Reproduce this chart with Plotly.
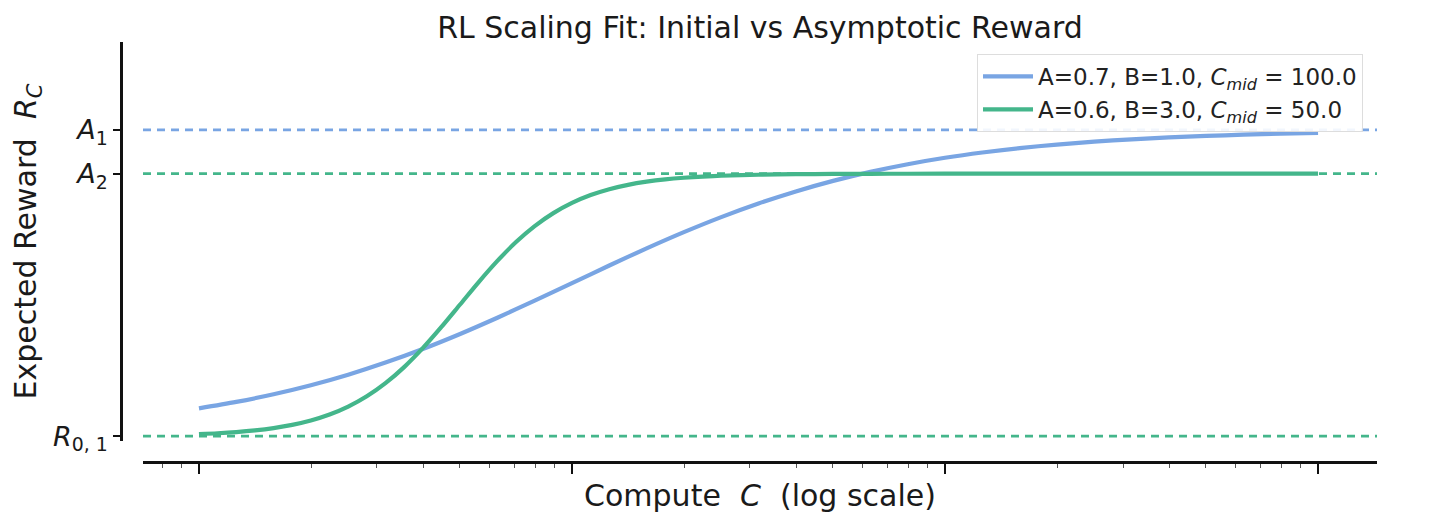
import plotly.graph_objects as go

# Blue series: compute values (log-spaced samples) and rewards
compute_c_blue = [10, 12.59, 15.85, 19.95, 25.12, 31.62, 39.81, 50.12, 63.10, 79.43,
                  100, 125.9, 158.5, 199.5, 251.2, 316.2, 398.1, 501.2, 631.0, 794.3,
                  1000, 1259, 1585, 1995, 2512, 3162, 3981, 5012, 6310, 7943, 10000]
reward_a07_b1 = [0.0636, 0.0783, 0.0958, 0.1164, 0.1405, 0.1682, 0.1993, 0.2337, 0.2708, 0.3099,
                 0.3500, 0.3901, 0.4292, 0.4663, 0.5007, 0.5318, 0.5595, 0.5836, 0.6042, 0.6217,
                 0.6364, 0.6485, 0.6585, 0.6666, 0.6732, 0.6785, 0.6828, 0.6863, 0.6891, 0.6913, 0.6931]

# Green series: denser samples through its steep part
compute_c_green = [10, 11.22, 12.59, 14.13, 15.85, 17.78, 19.95, 22.39, 25.12, 28.18,
                   31.62, 35.48, 39.81, 44.67, 50.12, 56.23, 63.10, 70.79, 79.43, 89.13,
                   100, 112.2, 125.9, 141.3, 158.5, 177.8, 199.5, 223.9, 251.2, 316.2,
                   398.1, 501.2, 631.0, 794.3, 1000, 3162, 10000]
reward_a06_b3 = [0.0048, 0.0067, 0.0094, 0.0132, 0.0185, 0.0258, 0.0358, 0.0494, 0.0675, 0.0911,
                 0.1211, 0.1579, 0.2012, 0.2497, 0.3010, 0.3523, 0.4006, 0.4437, 0.4802, 0.5099,
                 0.5333, 0.5512, 0.5646, 0.5745, 0.5817, 0.5870, 0.5907, 0.5934, 0.5953, 0.5976,
                 0.5988, 0.5994, 0.5997, 0.5999, 0.6000, 0.6000, 0.6000]

series_names = ["A=0.7, B=1.0, <i>C</i><sub><i>mid</i></sub> = 100.0",
                "A=0.6, B=3.0, <i>C</i><sub><i>mid</i></sub> = 50.0"]

asymptote_a1 = 0.7
asymptote_a2 = 0.6
initial_r0 = 0.0

y_tick_vals = [initial_r0, asymptote_a2, asymptote_a1]
y_tick_text = ["<i>R</i><sub>0, 1</sub>", "<i>A</i><sub>2</sub>", "<i>A</i><sub>1</sub>"]

x_major_ticks = [10, 100, 1000, 10000]
x_minor_ticks = [m * d for d in [1, 10, 100, 1000, 10000] for m in range(2, 10)]

BLUE = "#79A5E3"
GREEN = "#44B68B"
FONT = "DejaVu Sans"
TXT = "#1a1a1a"

fig = go.Figure()

# dashed reference lines
for val, col in [(asymptote_a1, BLUE), (asymptote_a2, GREEN), (initial_r0, GREEN)]:
    fig.add_shape(type="line", xref="x domain", yref="y", x0=0, x1=1, y0=val, y1=val,
                  line=dict(color=col, width=2.8, dash="8px,6px"), layer="below")

fig.add_trace(go.Scatter(x=compute_c_blue, y=reward_a07_b1, mode="lines", name=series_names[0],
                         line=dict(color=BLUE, width=4.2, shape="spline", smoothing=0.8)))
fig.add_trace(go.Scatter(x=compute_c_green, y=reward_a06_b3, mode="lines", name=series_names[1],
                         line=dict(color=GREEN, width=4.2, shape="spline", smoothing=0.8)))

# page body has an 8px default margin; compensate
OFF = 8
W, H = 1431 - OFF, 519 - OFF
L, R, T, B = 121 - OFF, 54, 42 - OFF, 57
pw = W - L - R
ph = H - T - B
x_dom0 = (143 - 121) / pw
y_dom0 = (462 - 441) / ph

fig.update_layout(
    width=W, height=H,
    margin=dict(l=L, r=R, t=T, b=B),
    paper_bgcolor="white", plot_bgcolor="white",
    font=dict(family=FONT, color=TXT),
    title=dict(text="RL Scaling Fit: Initial vs Asymptotic Reward", x=(760 - OFF) / W, xanchor="center",
               y=1 - (27 - OFF) / H, yanchor="middle", font=dict(size=30, family=FONT, color=TXT)),
    showlegend=True,
    legend=dict(x=(1363 - 121) / pw, xanchor="right", y=1 - (54 - 42) / ph, yanchor="top",
                bgcolor="rgba(255,255,255,0.9)", bordercolor="#DDDDDD", borderwidth=1,
                font=dict(size=23, family=FONT, color="#222222"), itemwidth=50),
    xaxis=dict(type="log", range=[0.85, 4.158], domain=[x_dom0, 1], anchor="free", position=0,
               showgrid=False, zeroline=False, showline=True, linecolor="#111111", linewidth=2.5,
               tickmode="array", tickvals=x_major_ticks, ticktext=["", "", "", ""],
               ticks="outside", ticklen=10, tickwidth=2, tickcolor="#111111",
               minor=dict(tickmode="array", tickvals=x_minor_ticks, ticks="outside", ticklen=4,
                          tickwidth=1, tickcolor="#555555", showgrid=False),
               title=dict(text="Compute  <i>C</i>  (log scale)", font=dict(size=30, family=FONT, color=TXT),
                          standoff=9)),
    yaxis=dict(range=[-0.011, 0.901], domain=[y_dom0, 1], anchor="free", position=0,
               showgrid=False, zeroline=False, showline=True, linecolor="#111111", linewidth=2.5,
               tickmode="array", tickvals=y_tick_vals, ticktext=y_tick_text,
               ticks="outside", ticklen=7, tickwidth=2, tickcolor="#111111",
               tickfont=dict(size=27, family=FONT, color=TXT),
               title=dict(text="Expected Reward  <i>R</i><sub><i>C</i></sub>",
                          font=dict(size=30, family=FONT, color=TXT), standoff=8)),
)

fig.write_html("out.html")
